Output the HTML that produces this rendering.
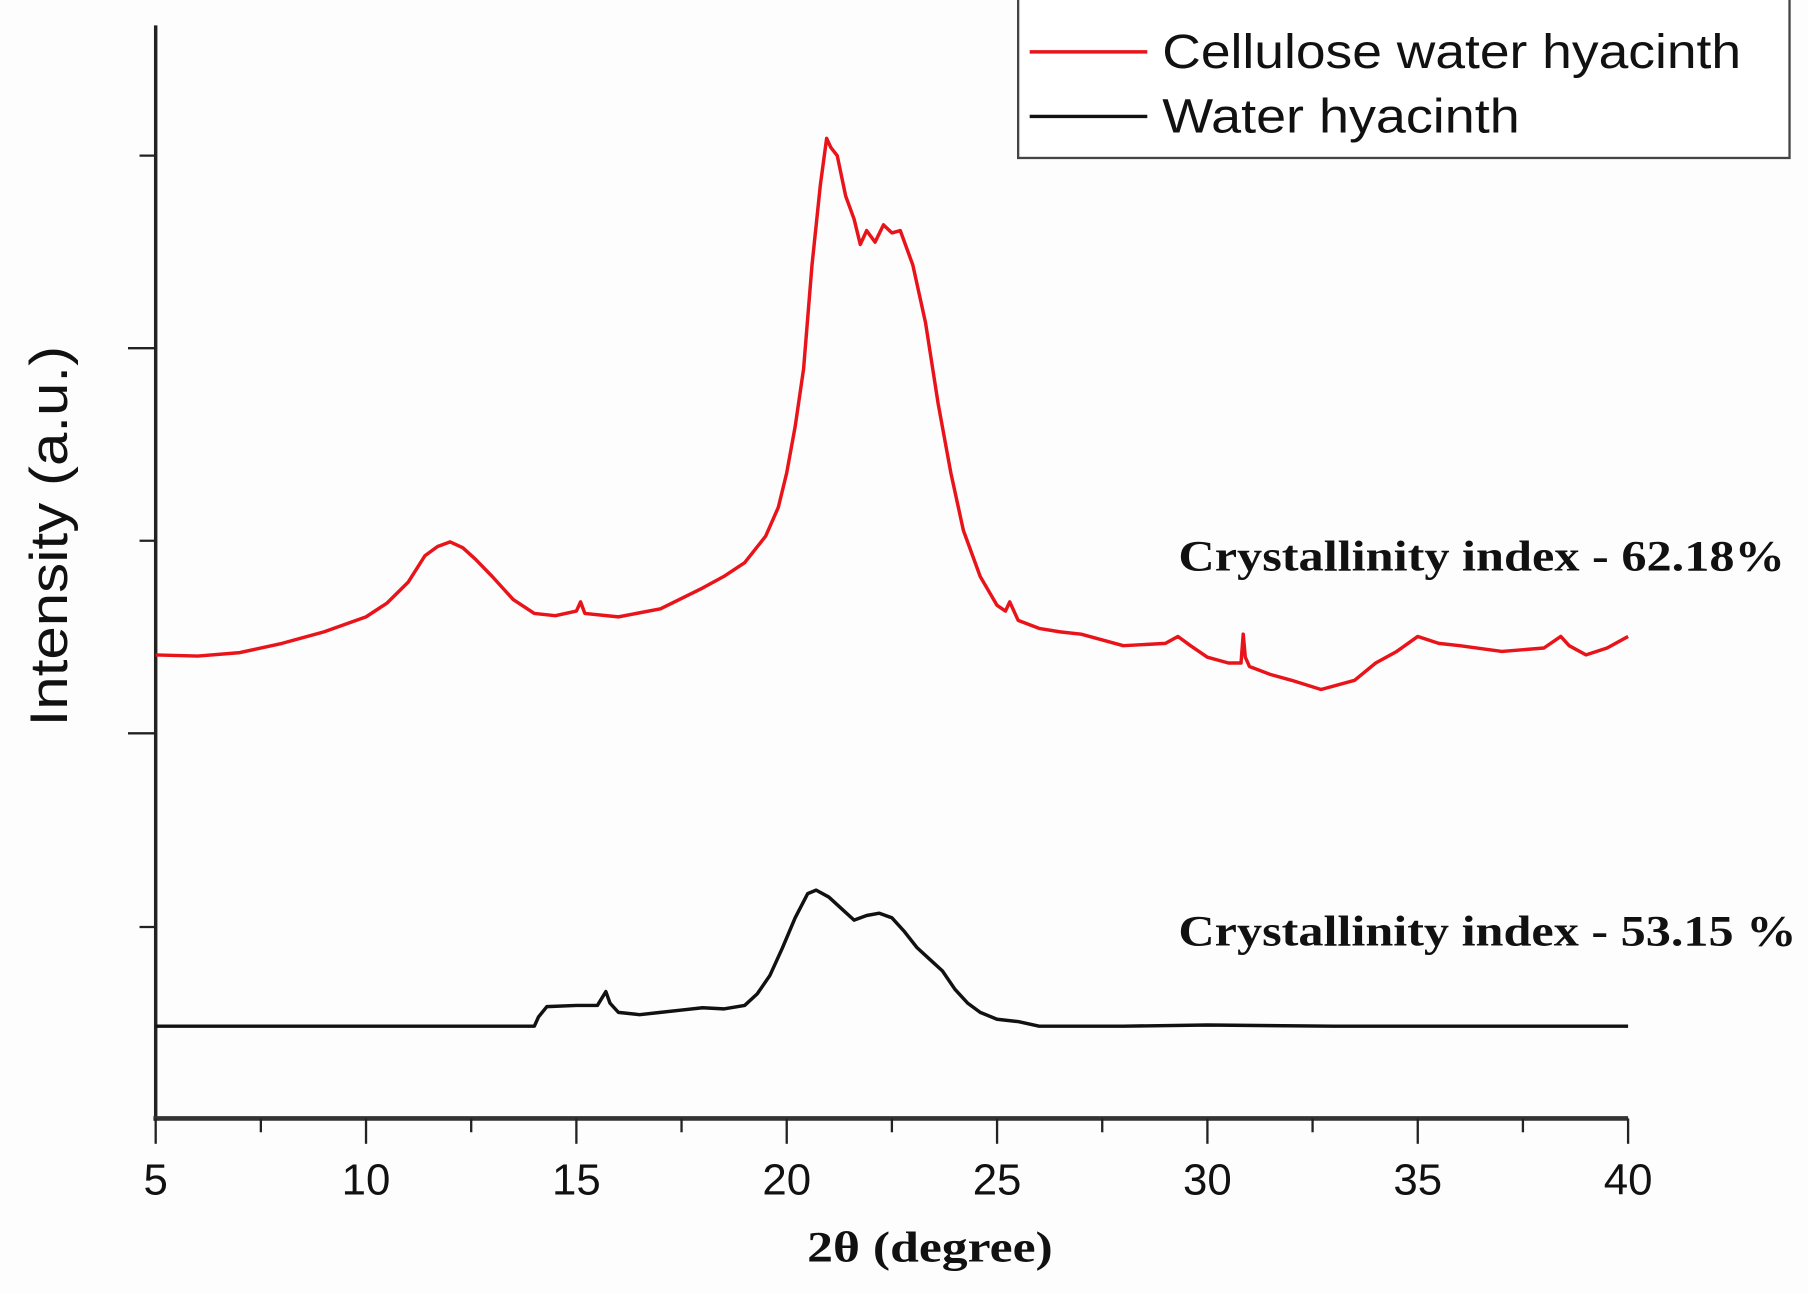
<!DOCTYPE html>
<html><head><meta charset="utf-8"><style>
html,body{margin:0;padding:0;background:#fdfdfd;}
svg{display:block;}
</style></head><body>
<svg id="chart" width="1808" height="1293" viewBox="0 0 1568 1121.4" xmlns="http://www.w3.org/2000/svg">
<rect width="1568" height="1122" fill="#fdfdfd"/>
<g id="axes"></g>
<g id="series"></g>
<text x="58" y="465" transform="rotate(-90 58 465)" text-anchor="middle" font-family="Liberation Sans, sans-serif" font-size="46" textLength="330" lengthAdjust="spacingAndGlyphs" fill="#111">Intensity (a.u.)</text>
<text x="700" y="1094" font-family="Liberation Serif, serif" font-weight="bold" font-size="38" textLength="213" lengthAdjust="spacingAndGlyphs" fill="#111">2θ (degree)</text>
<text x="1022" y="495" font-family="Liberation Serif, serif" font-weight="bold" font-size="38" textLength="526" lengthAdjust="spacingAndGlyphs" fill="#111">Crystallinity index - 62.18%</text>
<text x="1022" y="820" font-family="Liberation Serif, serif" font-weight="bold" font-size="38" textLength="536" lengthAdjust="spacingAndGlyphs" fill="#111">Crystallinity index - 53.15 %</text>
<g>
<rect x="883" y="-2" width="669" height="139" fill="#fff" stroke="#444" stroke-width="2"/>
<line x1="893" y1="45" x2="995" y2="45" stroke="#e8141a" stroke-width="3"/>
<text x="1008" y="59" font-family="Liberation Sans, sans-serif" font-size="42" textLength="502" lengthAdjust="spacingAndGlyphs" fill="#111">Cellulose water hyacinth</text>
<line x1="893" y1="101" x2="995" y2="101" stroke="#111" stroke-width="3"/>
<text x="1008" y="115" font-family="Liberation Sans, sans-serif" font-size="42" textLength="310" lengthAdjust="spacingAndGlyphs" fill="#111">Water hyacinth</text>
</g>
</svg>
<script>
const xTicks = [5,10,15,20,25,30,35,40];
const redX = [5,6,7,8,9,10,10.5,11,11.4,11.7,12,12.3,12.6,13,13.5,14,14.5,15,15.1,15.2,16,17,18,18.5,19,19.5,19.8,20,20.2,20.4,20.6,20.8,20.95,21.05,21.2,21.4,21.6,21.75,21.9,22.1,22.3,22.5,22.7,23,23.3,23.6,23.9,24.2,24.6,25,25.2,25.3,25.5,26,26.5,27,28,29,29.3,29.6,30,30.5,30.8,30.85,30.9,31,31.5,32,32.7,33.5,34,34.5,35,35.5,36,37,38,38.4,38.6,39,39.5,40];
const redV = [402,401,404,412,422,435,447,465,488,496,500,495,485,470,450,438,436,440,448,438,435,442,460,470,482,505,530,560,600,650,740,810,850,842,835,800,780,758,770,760,775,768,770,740,690,620,560,510,470,445,440,448,432,425,422,420,410,412,418,410,400,395,395,420,400,392,385,380,372,380,395,405,418,412,410,405,408,418,410,402,408,418];
const blackX = [5,8,11,14,14.1,14.3,15,15.5,15.7,15.8,16,16.5,17,17.5,18,18.5,19,19.3,19.6,19.9,20.2,20.5,20.7,21,21.3,21.6,21.9,22.2,22.5,22.8,23.1,23.4,23.7,24,24.3,24.6,25,25.5,26,28,30,33,36,40];
const blackV = [80,80,80,80,88,97,98,98,110,100,92,90,92,94,96,95,98,108,124,148,174,195,198,192,182,172,176,178,174,162,148,138,128,112,100,92,86,84,80,80,81,80,80,80];

const NS='http://www.w3.org/2000/svg';
const X0=135,X1=1412,YB=970;
function sx(v){return X0+(v-5)/(40-5)*(X1-X0);}
function sy(v){return YB-v;}
function mk(tag,attrs,parent){const e=document.createElementNS(NS,tag);for(const k in attrs)e.setAttribute(k,attrs[k]);parent.appendChild(e);return e;}
const axes=document.getElementById('axes');
const yAxis=mk('line',{x1:X0,y1:22,x2:X0,y2:YB+2,stroke:'#222','stroke-width':3},axes);


const xAxis=mk('line',{x1:X0-2,y1:YB,x2:X1,y2:YB,stroke:'#333','stroke-width':4},axes);


[135,302,469,636,804].forEach((y,i)=>{
  const len=(i%2===1)?24:14;
  const t=mk('line',{x1:X0-len,y1:y,x2:X0,y2:y,stroke:'#222','stroke-width':2},axes);
  
  
});
for(let v=5;v<=40;v+=2.5){
  const major=(v%5===0);
  const t=mk('line',{x1:sx(v),y1:YB,x2:sx(v),y2:YB+(major?22:12),stroke:'#222','stroke-width':2},axes);
  
  
}
xTicks.forEach(v=>{
  const t=mk('text',{x:sx(v),y:1036,'text-anchor':'middle','font-family':'Liberation Sans, sans-serif','font-size':38,fill:'#111'},axes);
  t.textContent=v;
  
  
});
const series=document.getElementById('series');
function path(xs,vs){return xs.map((x,i)=>(i?'L':'M')+sx(x).toFixed(1)+','+sy(vs[i]).toFixed(1)).join('');}
const rp=mk('path',{d:path(redX,redV),fill:'none',stroke:'#e8141a','stroke-width':3,'stroke-linejoin':'round'},series);


const bp=mk('path',{d:path(blackX,blackV),fill:'none',stroke:'#111','stroke-width':3,'stroke-linejoin':'round'},series);


</script>
</body></html>
